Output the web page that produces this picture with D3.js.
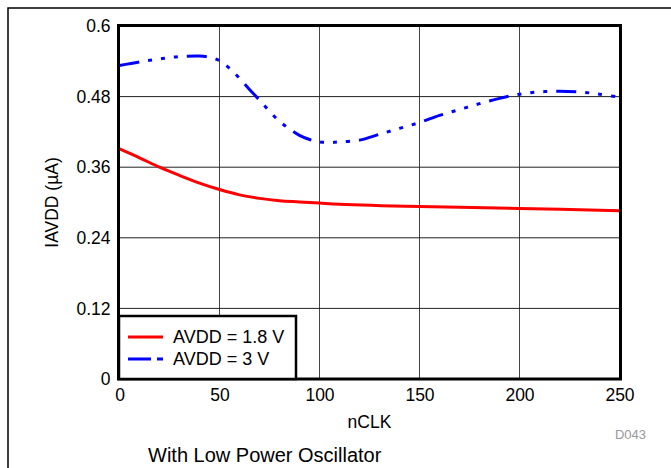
<!DOCTYPE html>
<html>
<head>
<meta charset="utf-8">
<script src="https://cdn.jsdelivr.net/npm/d3@7"></script>
<style>
  html, body { margin: 0; padding: 0; background: #fff; }
  svg { display: block; }
  text { font-family: "Liberation Sans", Arial, sans-serif; fill: #000; }
</style>
</head>
<body>
<svg id="chart" width="671" height="468"></svg>
<script>
// ---- data ----
const xTicks = [0, 50, 100, 150, 200, 250];
const yTicks = [0, 0.12, 0.24, 0.36, 0.48, 0.6];
const yTickLabels = ["0", "0.12", "0.24", "0.36", "0.48", "0.6"];

const nclkRed = [0, 10, 20, 30, 40, 50, 60, 70, 80, 90, 100, 110, 150, 200, 250];
const avdd18 = [0.391, 0.376, 0.360, 0.346, 0.333, 0.322, 0.313, 0.307, 0.303, 0.301, 0.299, 0.297, 0.293, 0.290, 0.286];

const nclkBlue = [0, 10, 20, 30, 40, 45, 50, 55, 60, 65, 70, 75, 80, 85, 90, 95, 100, 105, 110, 120, 130, 140, 150, 160, 170, 180, 190, 200, 210, 220, 230, 240, 250];
const avdd3 = [0.533, 0.539, 0.544, 0.548, 0.549, 0.547, 0.541, 0.528, 0.511, 0.492, 0.474, 0.455, 0.438, 0.425, 0.414, 0.407, 0.403, 0.402, 0.403, 0.406, 0.416, 0.426, 0.436, 0.448, 0.458, 0.468, 0.477, 0.484, 0.488, 0.489, 0.488, 0.484, 0.479];

const seriesNames = ["AVDD = 1.8 V", "AVDD = 3 V"];
const xLabel = "nCLK";
const yLabel = "IAVDD (\u00B5A)";
const caption = "With Low Power Oscillator";
const figId = "D043";

// ---- layout ----
const svg = d3.select("#chart");
const L = 119.5, R = 619.5, T = 26, B = 379;
const x = d3.scaleLinear().domain([0, 250]).range([L, R]);
const y = d3.scaleLinear().domain([0, 0.6]).range([B, T]);
const dash = "20,9,4,9,4,9,4,9";

// outer border
svg.append("path").attr("d", "M8,468 L8,8 L671,8")
  .attr("fill", "none").attr("stroke", "#000").attr("stroke-width", 1.5);

// grid
svg.append("g").selectAll("line").data(xTicks.slice(1, -1)).join("line")
  .attr("x1", d => x(d)).attr("x2", d => x(d)).attr("y1", T).attr("y2", B)
  .attr("stroke", "#444").attr("stroke-width", 1);
svg.append("g").selectAll("line").data(yTicks.slice(1, -1)).join("line")
  .attr("x1", L).attr("x2", R).attr("y1", d => y(d)).attr("y2", d => y(d))
  .attr("stroke", "#222").attr("stroke-width", 1);

// axes labels via d3 axes (no tick lines)
const yAxis = svg.append("g").attr("transform", `translate(${L - 9},0)`)
  .call(d3.axisLeft(y).tickValues(yTicks).tickSize(0).tickPadding(0)
    .tickFormat((d, i) => yTickLabels[i]));
yAxis.select(".domain").remove();
yAxis.selectAll("text").attr("font-size", 17.5)
  .attr("font-family", "'Liberation Sans', Arial, sans-serif").attr("fill", "#000");

const xAxis = svg.append("g").attr("transform", `translate(0,${B + 10})`)
  .call(d3.axisBottom(x).tickValues(xTicks).tickSize(0).tickPadding(0));
xAxis.select(".domain").remove();
xAxis.selectAll("text").attr("font-size", 17.5)
  .attr("font-family", "'Liberation Sans', Arial, sans-serif").attr("fill", "#000");

// lines
const lineGen = d3.line().x(d => x(d[0])).y(d => y(d[1])).curve(d3.curveCatmullRom.alpha(0.5));
const redData = nclkRed.map((v, i) => [v, avdd18[i]]);
const blueData = nclkBlue.map((v, i) => [v, avdd3[i]]);

svg.append("path").datum(redData).attr("d", lineGen)
  .attr("fill", "none").attr("stroke", "#ff0000").attr("stroke-width", 3);
svg.append("path").datum(blueData).attr("d", lineGen)
  .attr("fill", "none").attr("stroke", "#0000ff").attr("stroke-width", 3)
  .attr("stroke-dasharray", dash);

// frame
svg.append("rect").attr("x", L - 1).attr("y", T - 0.5).attr("width", R - L + 2).attr("height", B - T + 0.5)
  .attr("fill", "none").attr("stroke", "#000").attr("stroke-width", 3);

// legend
const lg = svg.append("g");
lg.append("rect").attr("x", 119).attr("y", 316).attr("width", 177).attr("height", 63)
  .attr("fill", "#fff").attr("stroke", "#000").attr("stroke-width", 2.5);
const legY = [337, 359];
const legColors = ["#ff0000", "#0000ff"];
seriesNames.forEach((name, i) => {
  lg.append("line").attr("x1", 128).attr("x2", 163).attr("y1", legY[i]).attr("y2", legY[i])
    .attr("stroke", legColors[i]).attr("stroke-width", 3)
    .attr("stroke-dasharray", i === 1 ? "23,6,6,20" : null);
  lg.append("text").attr("x", 173).attr("y", legY[i]).attr("dy", "0.36em")
    .attr("font-size", 18).text(name);
});

// axis titles
svg.append("text").attr("x", (L + R) / 2).attr("y", 428).attr("text-anchor", "middle")
  .attr("font-size", 17.5).text(xLabel);
svg.append("text").attr("transform", `translate(58,${(T + B) / 2}) rotate(-90)`)
  .attr("text-anchor", "middle").attr("font-size", 17.5).text(yLabel);

svg.append("text").attr("x", 646).attr("y", 439).attr("text-anchor", "end")
  .attr("font-size", 13).style("fill", "#999").text(figId);
svg.append("text").attr("x", 148).attr("y", 461.5)
  .attr("font-size", 20).text(caption);
</script>
</body>
</html>
